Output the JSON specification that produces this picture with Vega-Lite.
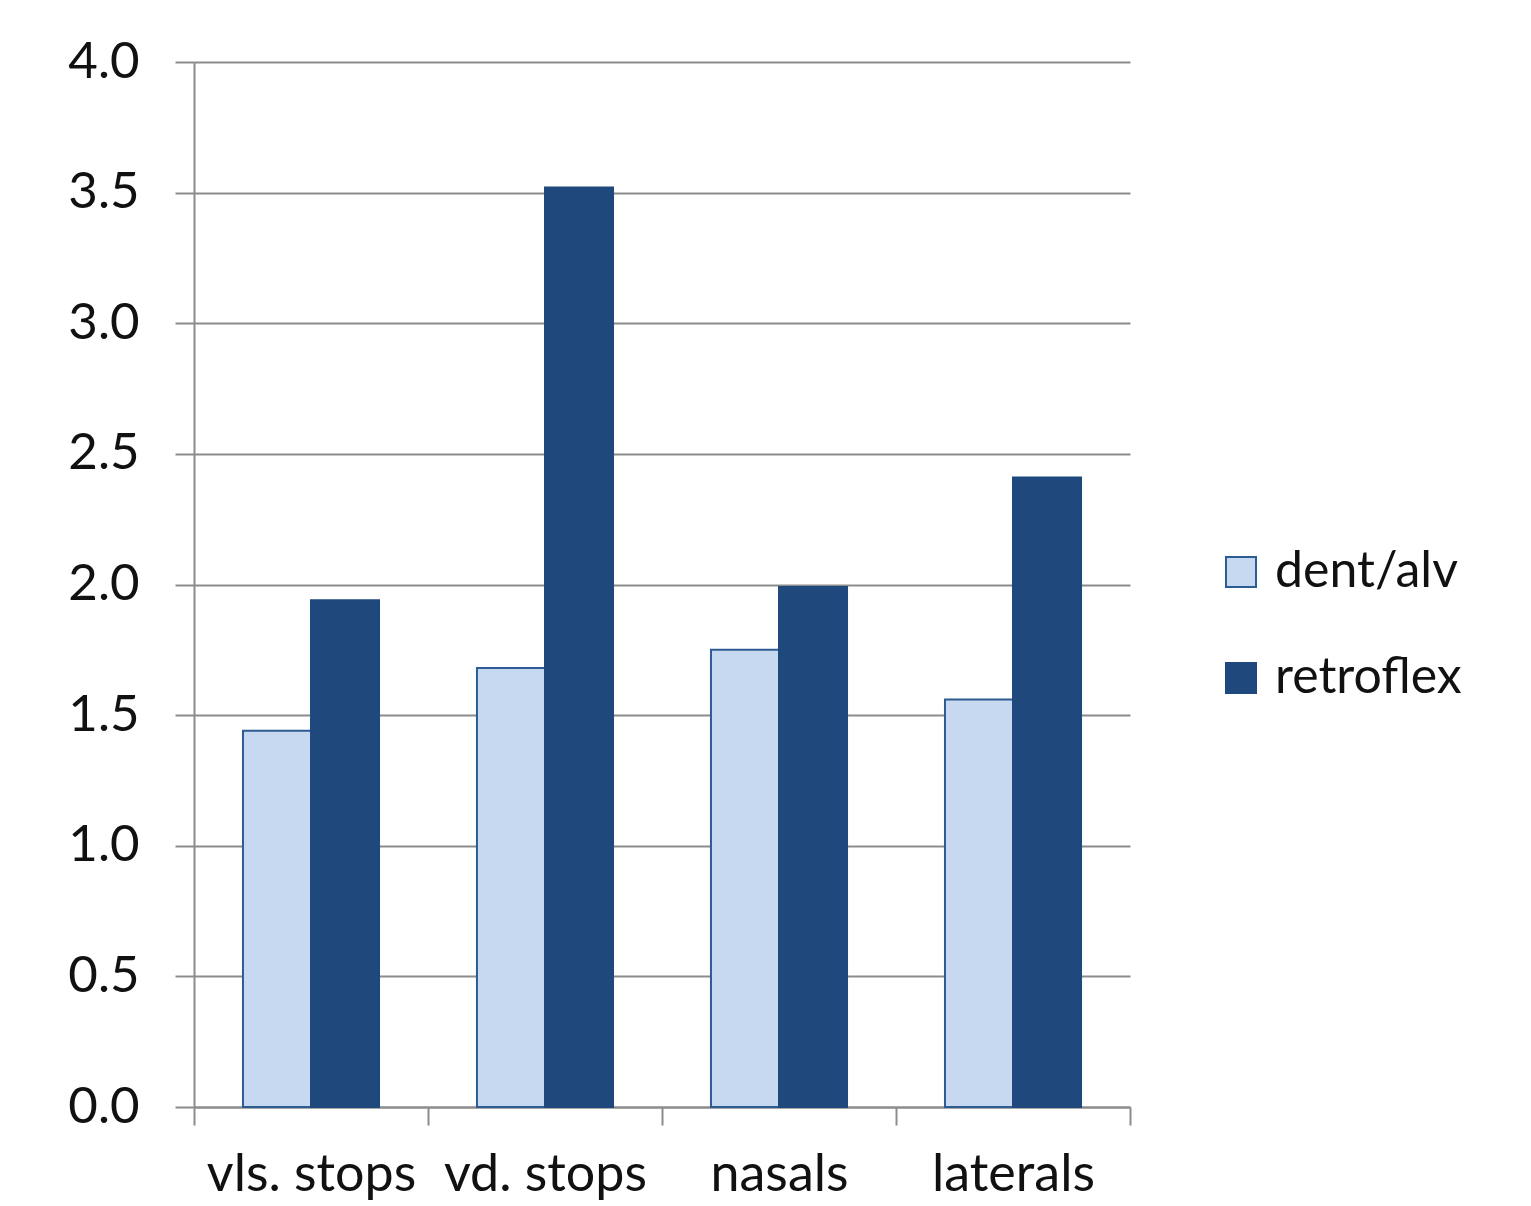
{
  "$schema": "https://vega.github.io/schema/vega-lite/v6.json",
  "width": 936,
  "height": 1045,
  "autosize": {"type": "none"},
  "padding": {"left": 194, "top": 62, "right": 401, "bottom": 99},
  "background": "white",
  "config": {
    "font": "Lato",
    "view": {"stroke": null}
  },
  "data": {
    "values": [
      {"category": "vls. stops", "place": "dent/alv", "value": 1.44},
      {"category": "vls. stops", "place": "retroflex", "value": 1.94},
      {"category": "vd. stops", "place": "dent/alv", "value": 1.68},
      {"category": "vd. stops", "place": "retroflex", "value": 3.52},
      {"category": "nasals", "place": "dent/alv", "value": 1.75},
      {"category": "nasals", "place": "retroflex", "value": 1.99},
      {"category": "laterals", "place": "dent/alv", "value": 1.56},
      {"category": "laterals", "place": "retroflex", "value": 2.41}
    ]
  },
  "mark": {"type": "bar", "strokeWidth": 2},
  "encoding": {
    "x": {
      "field": "category",
      "type": "nominal",
      "sort": ["vls. stops", "vd. stops", "nasals", "laterals"],
      "scale": {"paddingInner": 0, "paddingOuter": 0},
      "axis": {
        "title": null,
        "labelAngle": 0,
        "labelFont": "Lato",
        "labelFontSize": 52,
        "labelLimit": 0,
        "labelColor": "#111111",
        "labelPadding": 24,
        "tickBand": "extent",
        "tickSize": 18,
        "tickWidth": 2,
        "tickColor": "#8c8c8c",
        "domainColor": "#8c8c8c",
        "domainWidth": 2,
        "grid": false
      }
    },
    "xOffset": {
      "field": "place",
      "type": "nominal",
      "scale": {"paddingOuter": 0.72, "paddingInner": 0}
    },
    "y": {
      "field": "value",
      "type": "quantitative",
      "scale": {"domain": [0, 4], "nice": false, "zero": true},
      "axis": {
        "title": null,
        "values": [0, 0.5, 1, 1.5, 2, 2.5, 3, 3.5, 4],
        "format": ".1f",
        "labelFont": "Lato",
        "labelFontSize": 51,
        "labelLimit": 0,
        "labelColor": "#111111",
        "labelPadding": 36,
        "tickSize": 19,
        "tickWidth": 2,
        "tickColor": "#8c8c8c",
        "domainColor": "#8c8c8c",
        "domainWidth": 2,
        "grid": true,
        "gridColor": "#8c8c8c",
        "gridWidth": 2
      }
    },
    "color": {
      "field": "place",
      "type": "nominal",
      "scale": {"domain": ["dent/alv", "retroflex"], "range": ["#C6D9F1", "#1F497D"]},
      "legend": {
        "title": null,
        "orient": "none",
        "legendX": 1022,
        "legendY": 485,
        "symbolType": "square",
        "symbolSize": 900,
        "symbolStrokeWidth": 2,
        "labelFont": "Lato",
        "labelFontSize": 50,
        "labelLimit": 0,
        "labelColor": "#111111",
        "labelOffset": 9,
        "rowPadding": 56
      }
    },
    "stroke": {
      "field": "place",
      "type": "nominal",
      "scale": {"domain": ["dent/alv", "retroflex"], "range": ["#2F5B93", "#1F497D"]},
      "legend": null
    }
  }
}
